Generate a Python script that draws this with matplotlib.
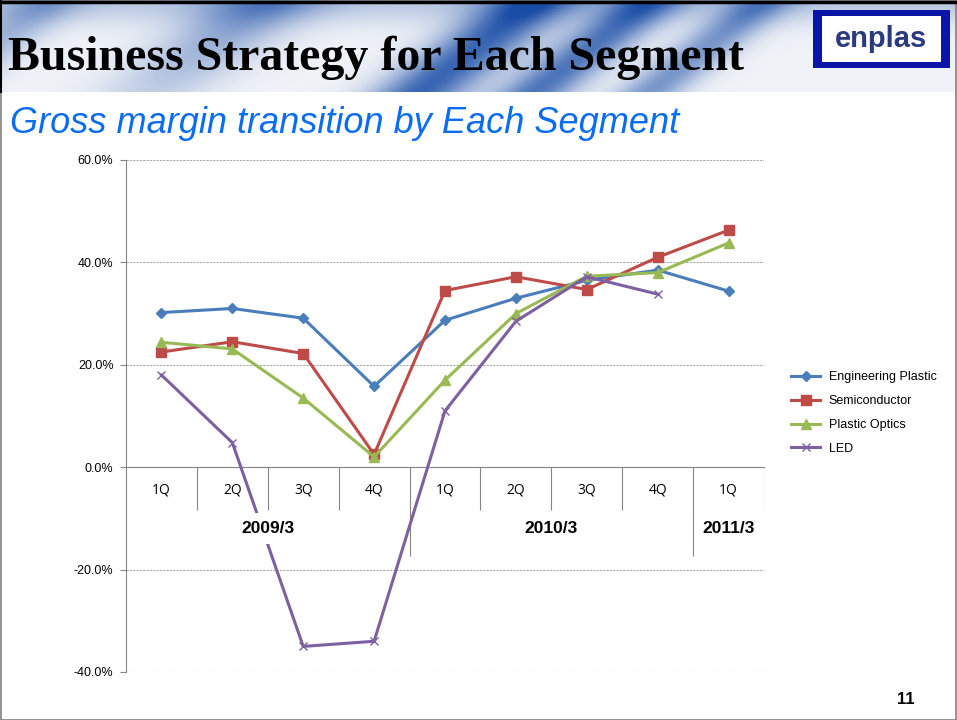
import numpy as np
import matplotlib.pyplot as plt
from matplotlib.patches import Rectangle

# data
quarters = ['1Q', '2Q', '3Q', '4Q', '1Q', '2Q', '3Q', '4Q', '1Q']
years = ['2009/3', '2010/3', '2011/3']
year_pos = [1.5, 5.5, 8.0]

eng_plastic = [0.302, 0.310, 0.291, 0.158, 0.287, 0.330, 0.365, 0.385, 0.344]
semicond = [0.225, 0.245, 0.222, 0.025, 0.345, 0.372, 0.347, 0.410, 0.463]
plastic_optics = [0.244, 0.231, 0.135, 0.020, 0.170, 0.300, 0.373, 0.380, 0.438]
led = [0.180, 0.048, -0.350, -0.340, 0.110, 0.285, 0.372, 0.338, np.nan]

W, H = 957, 720
fig = plt.figure(figsize=(W / 100, H / 100), dpi=100)
fig.patch.set_facecolor('white')

# header band with diagonal blue streaks
hx = fig.add_axes([0, 1 - 92 / H, 1, 92 / H])
u, v = np.meshgrid(np.linspace(0, 1, 400), np.linspace(0, 1, 60))
s = u + 0.12 * v
k = (0.35 * np.exp(-((s - 0.05) / 0.04) ** 2)
     + 0.55 * np.exp(-((s - 0.28) / 0.06) ** 2) * (1 - 0.6 * v)
     + 0.85 * np.exp(-((s - 0.56) / 0.05) ** 2)
     + 0.75 * np.exp(-((s - 0.68) / 0.04) ** 2)
     + 0.55 * np.exp(-((s - 0.80) / 0.035) ** 2)
     + 0.25 * np.exp(-(v / 0.25) ** 2))
k = np.clip(k, 0, 1)
light = np.array([0.94, 0.95, 0.97])
dark = np.array([0.10, 0.30, 0.65])
img = light[None, None, :] * (1 - k[..., None]) + dark[None, None, :] * k[..., None]
hx.imshow(img, aspect='auto', extent=[0, 1, 0, 1])
hx.set_axis_off()

fig.text(8 / W, 1 - 70 / H, 'Business Strategy for Each Segment',
         family='Liberation Serif', weight='bold', fontsize=34.5, color='black')

# logo
fig.add_artist(Rectangle((813 / W, 1 - 68 / H), 137 / W, 58 / H,
                         transform=fig.transFigure, facecolor='#0A14A8', edgecolor='none'))
fig.add_artist(Rectangle((822 / W, 1 - 62 / H), 119 / W, 46 / H,
                         transform=fig.transFigure, facecolor='white', edgecolor='none'))
fig.text(881 / W, 1 - 39 / H, 'enplas', ha='center', va='center',
         family='Liberation Sans', weight='bold', fontsize=21, color='#2B3A80')

fig.text(10 / W, 1 - 133 / H, 'Gross margin transition by Each Segment',
         family='Liberation Sans', style='italic', fontsize=26, color='#0A6CF0')

# chart
ax = fig.add_axes([126 / W, 48 / H, 638 / W, 512 / H])
x = np.arange(len(quarters))
ax.plot(x, eng_plastic, color='#4A7EBB', lw=2.2, marker='D', ms=5, label='Engineering Plastic', zorder=3)
ax.plot(x, semicond, color='#BE4B48', lw=2.2, marker='s', ms=6.5, label='Semiconductor', zorder=3)
ax.plot(x, plastic_optics, color='#98B954', lw=2.2, marker='^', ms=7, label='Plastic Optics', zorder=3)
ax.plot(x, led, color='#7D60A0', lw=2.2, marker='x', ms=6, mew=1, label='LED', zorder=3)

ax.set_xlim(-0.5, 8.5)
ax.set_ylim(-0.4, 0.6)
yt = [-0.4, -0.2, 0.0, 0.2, 0.4, 0.6]
ax.set_yticks(yt)
ax.set_yticklabels([f'{t * 100:.1f}%' for t in yt], family='Liberation Sans', fontsize=9)
ax.yaxis.grid(True, ls=(0, (2, 1)), color='#AAAAAA', lw=0.8)
ax.tick_params(axis='y', length=4, color='#868686', pad=5)

for sp in ['top', 'right']:
    ax.spines[sp].set_visible(False)
ax.spines['left'].set_color('#868686')
ax.spines['bottom'].set_position(('data', 0))
ax.spines['bottom'].set_color('#868686')
ax.spines['bottom'].set_zorder(2.5)

ax.set_xticks(x)
ax.set_xticklabels(quarters, family='Open Sans', fontsize=10)
ax.tick_params(axis='x', length=0, pad=11)

ax.vlines([0.5, 1.5, 2.5, 4.5, 5.5, 6.5, 8.5], -0.084, 0, color='#868686', lw=0.8)
ax.vlines([3.5, 7.5], -0.174, 0, color='#868686', lw=0.8)
for lab, p in zip(years, year_pos):
    ax.text(p, -0.12, lab, ha='center', va='center', family='Liberation Sans',
            weight='bold', fontsize=12.5, zorder=4,
            bbox=dict(facecolor='white', edgecolor='none', pad=6))

fig.legend(loc='center left', bbox_to_anchor=(780 / W, 1 - 413 / H), frameon=False,
           prop={'family': 'Liberation Sans', 'size': 9}, handlelength=2.3,
           labelspacing=0.95, handletextpad=0.7)

fig.text(915 / W, 1 - 700 / H, '11', ha='right', va='center',
         family='Liberation Sans', weight='bold', fontsize=12)

# slide border
fig.add_artist(Rectangle((0.5 / W, 0.5 / H), (W - 1.5) / W, (H - 1.5) / H,
                         transform=fig.transFigure, fill=False, edgecolor='#808080', lw=1.2))
fig.add_artist(plt.Line2D([0, 1], [1 - 1.5 / H, 1 - 1.5 / H], transform=fig.transFigure,
                          color='black', lw=2.5))
fig.add_artist(plt.Line2D([1 / W, 1 / W], [1 - 92 / H, 1], transform=fig.transFigure,
                          color='black', lw=1.5))

fig.savefig('out.png', dpi=100)
